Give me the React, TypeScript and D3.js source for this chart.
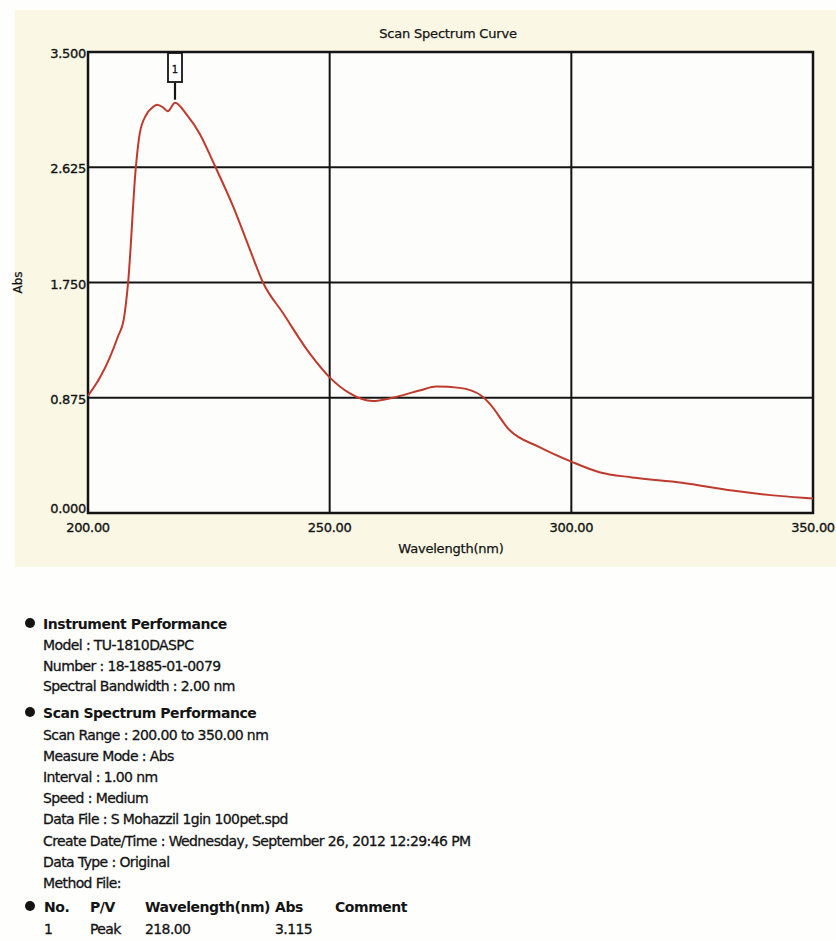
import React from "react";
import * as d3 from "d3";

// spectrum
const wavelengths = [200, 202.5, 204.5, 206.2, 207.4, 208.3, 209.9, 210.7, 212, 213.4, 214.3, 215.5, 216.5, 218, 220.5, 223.1, 226.2, 230, 233.5, 236.2, 240.3, 245.9, 250, 254.1, 258.9, 263, 268.6, 272.1, 276.9, 281.4, 283.1, 287.2, 293.4, 300, 305.8, 312.6, 322.9, 333.3, 343, 350];
const absorbance = [0.89, 1.03, 1.18, 1.34, 1.47, 1.75, 2.625, 2.88, 3.02, 3.08, 3.1, 3.08, 3.05, 3.115, 3.02, 2.88, 2.64, 2.33, 2.0, 1.75, 1.52, 1.21, 1.03, 0.91, 0.85, 0.875, 0.93, 0.96, 0.95, 0.89, 0.83, 0.63, 0.5, 0.39, 0.31, 0.27, 0.23, 0.17, 0.13, 0.11];
const xTicks = [200, 250, 300, 350];
const yTicks = [0, 0.875, 1.75, 2.625, 3.5];
const peakNo = 1;
const peakWl = 218;
const peakAbs = 3.115;

const instrumentLines = ["Model : TU-1810DASPC", "Number : 18-1885-01-0079", "Spectral Bandwidth : 2.00 nm"];
const scanLines = [
  "Scan Range : 200.00 to 350.00 nm",
  "Measure Mode : Abs",
  "Interval : 1.00 nm",
  "Speed : Medium",
  "Data File : S Mohazzil 1gin 100pet.spd",
  "Create Date/Time : Wednesday, September 26, 2012 12:29:46 PM",
  "Data Type : Original",
  "Method File:",
];
const tableHeads = ["No.", "P/V", "Wavelength(nm)", "Abs", "Comment"];
const tableRow = ["1", "Peak", "218.00", "3.115", ""];
const colX = [44, 90, 145, 275, 335];

const W = 836, H = 941;
const m = { left: 88, top: 52, right: 813, bottom: 513 };
const font = "'DejaVu Sans', Verdana, sans-serif";
const ink = "#141414";

export default function App() {
  const x = d3.scaleLinear().domain([200, 350]).range([m.left, m.right]);
  const y = d3.scaleLinear().domain([0, 3.5]).range([m.bottom, m.top]);
  const pts = wavelengths.map((w, i) => [w, absorbance[i]] as [number, number]);
  const line = d3.line<[number, number]>().x(d => x(d[0])).y(d => y(d[1])).curve(d3.curveMonotoneX);

  const px = x(peakWl), py = y(peakAbs);
  const reg = { letterSpacing: -0.6, stroke: ink, strokeWidth: 0.3 };
  const bold = { letterSpacing: -0.45, fontWeight: "bold" as const };

  return (
    <div>
      <style>{"body{margin:0;background:#fefefd}"}</style>
      <svg width={W} height={H} style={{ display: "block", fontFamily: font }}>
        <rect x={15} y={10} width={W - 15} height={557} fill="#faf8e5" />
        <rect x={m.left} y={m.top} width={m.right - m.left} height={m.bottom - m.top} fill="#fdfdfb" />
        <text x={448} y={38} fontSize={13} textAnchor="middle" letterSpacing={-0.2} fill={ink} stroke={ink} strokeWidth={0.25}>Scan Spectrum Curve</text>

        {yTicks.map(t => (
          <g key={"y" + t}>
            <line x1={m.left} x2={m.right} y1={y(t)} y2={y(t)} stroke={ink} strokeWidth={2} />
            <text x={86} y={Math.min(y(t) + 6, m.bottom)} fontSize={13} textAnchor="end" letterSpacing={-0.3} fill={ink} stroke={ink} strokeWidth={0.35}>{t.toFixed(3)}</text>
          </g>
        ))}
        {xTicks.map(t => (
          <g key={"x" + t}>
            <line x1={x(t)} x2={x(t)} y1={m.top} y2={m.bottom} stroke={ink} strokeWidth={2} />
            <text x={x(t)} y={532} fontSize={13} textAnchor="middle" letterSpacing={-0.3} fill={ink} stroke={ink} strokeWidth={0.35}>{t.toFixed(2)}</text>
          </g>
        ))}
        <rect x={m.left} y={m.top} width={m.right - m.left} height={m.bottom - m.top} fill="none" stroke={ink} strokeWidth={2.5} />
        <text x={451} y={553} fontSize={13} textAnchor="middle" letterSpacing={-0.2} fill={ink} stroke={ink} strokeWidth={0.25}>Wavelength(nm)</text>
        <text transform={`translate(22,${y(1.75)}) rotate(-90)`} fontSize={12} textAnchor="middle" fill={ink} stroke={ink} strokeWidth={0.25}>Abs</text>

        <path d={line(pts) ?? ""} fill="none" stroke="#bf3a2c" strokeWidth={2} />

        <line x1={px} x2={px} y1={83} y2={py - 3} stroke={ink} strokeWidth={2.2} />
        <rect x={px - 7} y={53} width={14} height={29} fill="#fff" stroke={ink} strokeWidth={1.8} />
        <text x={px} y={73} fontSize={10} textAnchor="middle" fill={ink} stroke={ink} strokeWidth={0.3}>{peakNo}</text>

        <g fontSize={14} fill={ink}>
          <circle cx={30} cy={623} r={5} fill={ink} />
          <text x={43} y={629} {...bold}>Instrument Performance</text>
          {instrumentLines.map((s, i) => (
            <text key={s} x={43} y={650 + i * 20.7} {...reg}>{s}</text>
          ))}
          <circle cx={30} cy={712} r={5} fill={ink} />
          <text x={43} y={718} {...bold}>Scan Spectrum Performance</text>
          {scanLines.map((s, i) => (
            <text key={s} x={43} y={740 + i * 21.1} {...reg}>{s}</text>
          ))}
          <circle cx={30} cy={906} r={5} fill={ink} />
          {tableHeads.map((s, i) => (
            <text key={s} x={colX[i]} y={912} {...bold}>{s}</text>
          ))}
          {tableRow.map((s, i) => (
            <text key={"r" + i} x={colX[i]} y={934} {...reg}>{s}</text>
          ))}
        </g>
      </svg>
    </div>
  );
}
